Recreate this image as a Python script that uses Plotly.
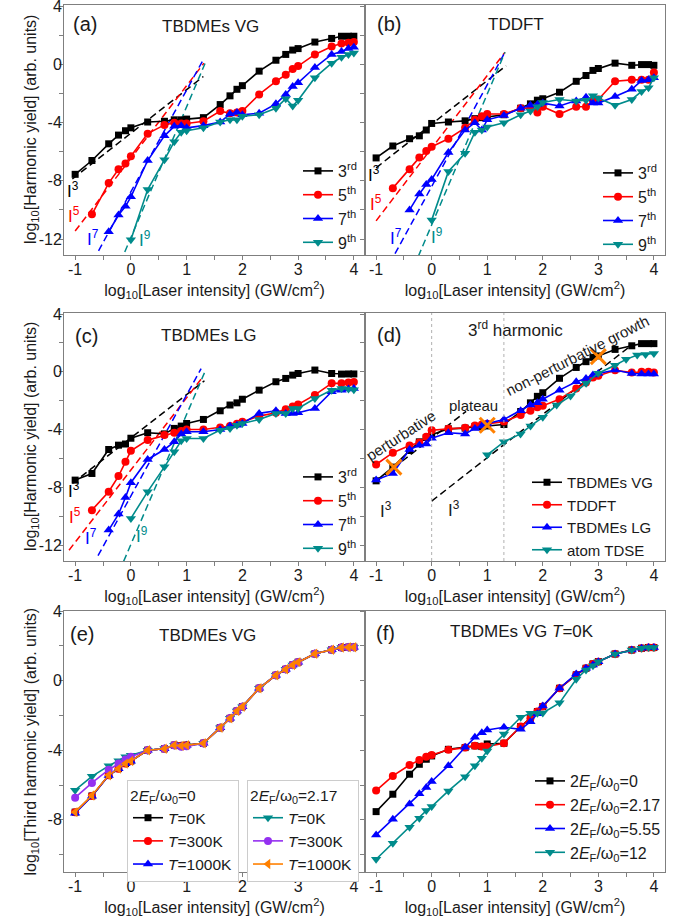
import plotly.graph_objects as go

# ---------------- data ----------------
# log10 of laser intensity (GW/cm^2) sampling grid
log_I = [-1, -0.699, -0.398, -0.222, -0.097, 0, 0.301, 0.602, 0.778, 0.903, 1,
         1.301, 1.602, 1.778, 1.903, 2, 2.301, 2.602, 2.778, 2.903, 3,
         3.301, 3.602, 3.778, 3.903, 4]
x_5th = log_I[1:]
x_7th = log_I[2:]
x_9th = log_I[5:]

# (a) TBDMEs VG
a_3rd = [-7.55, -6.6, -5.45, -4.85, -4.55, -4.35, -3.95, -3.9, -3.8, -3.8, -3.75, -3.65, -2.75,
         -2.15, -1.7, -1.45, -0.45, 0.3, 0.7, 1.0, 1.1, 1.55, 1.8, 1.95, 1.95, 1.95]
a_5th = [-10.3, -8.15, -7.2, -6.8, -6.3, -4.75, -4.15, -4.0, -4.05, -4.05, -3.9, -3.2, -3.35,
         -3.3, -3.2, -2.05, -1.15, -0.7, -0.3, -0.1, 0.7, 1.25, 1.45, 1.5, 1.55]
a_7th = [-11.5, -10.35, -9.75, -9.1, -6.6, -4.9, -4.25, -4.2, -4.35, -4.2, -3.95, -3.4, -3.3,
         -3.45, -3.35, -2.7, -2.05, -1.5, -1.25, -0.2, 0.7, 0.9, 1.1, 1.2]
a_9th = [-12.05, -8.6, -6.55, -5.3, -4.65, -4.55, -4.35, -3.95, -3.8, -3.8, -3.55, -3.45, -3.0,
         -2.35, -2.85, -2.45, -0.9, 0.1, 0.5, 0.7, 0.8]

# (b) TDDFT
b_3rd = [-6.42, -5.6, -5.1, -4.9, -4.5, -4.05, -3.95, -3.87, -3.72, -3.65, -3.6, -3.45, -3.0,
         -2.7, -2.45, -2.35, -1.9, -1.15, -0.75, -0.4, -0.27, 0.1, -0.05, 0.0, 0.0, -0.05]
b_5th = [-8.5, -7.2, -6.4, -5.95, -5.65, -5.1, -4.35, -3.8, -3.55, -3.4, -3.4, -3.0, -3.0,
         -3.3, -2.9, -3.4, -2.9, -2.9, -2.45, -2.4, -1.15, -1.05, -1.05, -1.05, -0.55]
b_7th = [-10.0, -8.9, -8.25, -7.9, -6.05, -4.5, -4.0, -4.5, -3.8, -3.5, -3.0, -2.8, -2.75,
         -2.65, -2.85, -2.5, -2.25, -2.65, -2.65, -2.2, -1.7, -1.1, -1.05, -0.9]
b_9th = [-10.7, -7.35, -6.1, -4.65, -4.5, -4.3, -4.0, -3.45, -3.2, -2.9, -2.6, -2.4, -2.5,
         -2.45, -2.15, -2.3, -2.8, -2.4, -1.85, -1.6, -0.9]

# (c) TBDMEs LG
c_3rd = [-7.5, -7.04, -5.38, -5.08, -5.0, -4.6, -4.22, -4.3, -3.92, -3.76, -3.58, -3.3, -2.7,
         -2.3, -2.15, -1.9, -1.27, -0.69, -0.46, -0.23, -0.12, 0.12, -0.12, -0.16, -0.15, -0.15]
c_5th = [-9.58, -8.3, -7.22, -6.23, -5.47, -4.73, -4.38, -4.22, -4.1, -4.0, -4.0, -3.85, -3.76,
         -3.6, -3.46, -3.07, -2.84, -2.6, -2.4, -2.26, -1.6, -0.8, -0.8, -0.75, -0.7]
c_7th = [-10.96, -9.85, -8.7, -7.68, -6.07, -5.38, -4.85, -4.3, -4.15, -4.15, -4.0, -3.76, -3.7,
         -3.58, -2.88, -2.7, -2.88, -2.88, -2.84, -2.54, -1.38, -1.27, -1.2, -1.15]
c_9th = [-10.15, -8.3, -6.58, -5.54, -4.78, -4.62, -4.62, -4.04, -3.92, -3.7, -3.58, -3.3, -2.88,
         -2.88, -2.54, -2.54, -1.85, -1.27, -1.15, -1.2, -1.25]

# (d) atom TDSE third harmonic
tdse_x = [1.0, 1.3, 1.6, 1.78, 2.0, 2.25, 2.5, 2.78, 3.0, 3.3, 3.5, 3.7, 3.85, 4.0]
tdse_y = [-5.75, -4.85, -4.3, -3.75, -3.15, -2.3, -1.68, -0.8, -0.1, 0.45, 0.86, 1.16, 1.2, 1.27]
# regime-boundary markers (orange crosses)
cross_x = [-0.68, 1.0, 3.0]
cross_y = [-6.6, -3.7, 1.05]
regime_bounds = [0, 1.3]

# power-law guide lines I^n : log y = n*log I + b
fit_orders = [3, 5, 7, 9]
fit_a_b = [-4.72, -6.45, -8.75, -11.9]
fit_a_x0 = [-1.05, -1.0, -0.58, -0.11]
fit_a_x1 = [1.3, 1.31, 1.28, 1.33]
fit_b_b = [-4.1, -5.75, -8.39, -11.03]
fit_b_x0 = [-1.0, -1.0, -0.66, -0.24]
fit_b_x1 = [1.34, 1.32, 1.32, 1.32]
fit_c_b = [-4.58, -6.8, -8.6, -11.95]
fit_c_x0 = [-1.05, -1.11, -0.59, -0.13]
fit_c_x1 = [1.32, 1.29, 1.26, 1.33]
fit_d_order = [3, 3]
fit_d_b = [-4.6, -8.95]
fit_d_x0 = [-1.0, 0.0]
fit_d_x1 = [0.62, 3.55]

# (e) third harmonic vs temperature
e0_T0 = [-7.56, -6.63, -5.44, -5.06, -4.77, -4.62, -4.0, -3.92, -3.71, -3.75, -3.71, -3.6, -2.71,
         -2.17, -1.75, -1.5, -0.44, 0.31, 0.65, 0.9, 1.06, 1.54, 1.77, 1.9, 1.92, 1.92]
e0_T300 = [-7.56, -6.63, -5.44, -5.06, -4.77, -4.62, -4.0, -3.92, -3.71, -3.75, -3.71, -3.6, -2.71,
           -2.17, -1.75, -1.5, -0.44, 0.31, 0.65, 0.9, 1.06, 1.54, 1.77, 1.9, 1.92, 1.92]
e0_T1000 = [-7.62, -6.65, -5.46, -5.07, -4.78, -4.63, -4.0, -3.92, -3.72, -3.76, -3.72, -3.6, -2.71,
            -2.17, -1.75, -1.5, -0.44, 0.31, 0.65, 0.9, 1.06, 1.54, 1.77, 1.9, 1.92, 1.92]
e217_T0 = [-6.3, -5.5, -4.9, -4.6, -4.38, -4.29, -4.0, -3.9, -3.72, -3.78, -3.75, -3.6, -2.71,
           -2.17, -1.75, -1.5, -0.44, 0.31, 0.65, 0.9, 1.06, 1.54, 1.77, 1.9, 1.92, 1.92]
e217_T300 = [-6.73, -5.88, -5.12, -4.77, -4.54, -4.38, -4.0, -3.92, -3.72, -3.8, -3.78, -3.6, -2.71,
             -2.17, -1.75, -1.5, -0.44, 0.31, 0.65, 0.9, 1.06, 1.54, 1.77, 1.9, 1.92, 1.92]
e217_T1000 = [-7.56, -6.6, -5.44, -5.06, -4.77, -4.62, -4.0, -3.92, -3.71, -3.75, -3.71, -3.6, -2.71,
              -2.17, -1.75, -1.5, -0.44, 0.31, 0.65, 0.9, 1.06, 1.54, 1.77, 1.9, 1.92, 1.92]

# (f) third harmonic vs Fermi level, T = 0 K
f_0 = [-7.53, -6.53, -5.38, -4.81, -4.52, -4.33, -3.95, -3.85, -3.75, -3.79, -3.64, -3.6, -2.64,
       -2.16, -1.78, -1.49, -0.44, 0.33, 0.71, 0.96, 1.09, 1.53, 1.76, 1.86, 1.9, 1.9]
f_217 = [-6.32, -5.48, -4.85, -4.56, -4.37, -4.27, -3.98, -3.85, -3.75, -3.79, -3.79, -3.6, -2.64,
         -2.16, -1.78, -1.49, -0.44, 0.33, 0.71, 0.96, 1.09, 1.53, 1.76, 1.86, 1.9, 1.9]
f_555 = [-8.87, -7.97, -7.09, -6.51, -6.15, -5.8, -4.89, -3.83, -3.26, -2.99, -2.84, -2.68, -2.8,
         -2.36, -1.9, -1.46, -0.44, 0.38, 0.71, 0.9, 1.09, 1.53, 1.76, 1.86, 1.9, 1.9]
f_12 = [-10.27, -9.35, -8.43, -7.91, -7.47, -7.24, -6.34, -5.52, -4.9, -4.46, -4.04, -3.07, -2.11,
        -1.88, -1.88, -1.86, -1.28, 0.08, 0.61, 0.86, 1.09, 1.53, 1.76, 1.86, 1.9, 1.9]

order_names = ["3<sup>rd</sup>", "5<sup>th</sup>", "7<sup>th</sup>", "9<sup>th</sup>"]
method_names = ["TBDMEs VG", "TDDFT", "TBDMEs LG", "atom TDSE"]
temp_names = ["<i>T</i>=0K", "<i>T</i>=300K", "<i>T</i>=1000K"]
fermi_names = ["2<i>E</i><sub>F</sub>/ω<sub>0</sub>=0", "2<i>E</i><sub>F</sub>/ω<sub>0</sub>=2.17",
               "2<i>E</i><sub>F</sub>/ω<sub>0</sub>=5.55", "2<i>E</i><sub>F</sub>/ω<sub>0</sub>=12"]

x_tickvals = [-1, 0, 1, 2, 3, 4]
x_ticktext = ["-1", "0", "1", "2", "3", "4"]
x_minorvals = [-0.5, 0.5, 1.5, 2.5, 3.5]
y_tickvals_top = [-12, -8, -4, 0, 4]
y_ticktext_top = ["-12", "-8", "-4", "0", "4"]
y_minorvals_top = [-10, -6, -2, 2]
y_tickvals_bot = [-8, -4, 0, 4]
y_ticktext_bot = ["-8", "-4", "0", "4"]
y_minorvals_bot = [-10, -6, -2, 2]

# ---------------- styling ----------------
W, H = 690, 923
ML, MR, MT, MB = 64, 25, 5, 51
PW, PH = W - ML - MR, H - MT - MB
FONT = "Liberation Sans, Arial, Helvetica, sans-serif"


def px2x(px):
    return (px - ML) / PW


def py2y(py):
    return 1 - (py - MT) / PH


BLACK, RED, BLUE, TEAL = "#000000", "#ff0000", "#0000ff", "#008b8b"
PURPLE, ORANGE = "#9430f0", "#ff8000"
colors4 = [BLACK, RED, BLUE, TEAL]
symbols4 = ["square", "circle", "triangle-up", "triangle-down"]
msize = {"square": 7, "circle": 8, "triangle-up": 9, "triangle-down": 9, "triangle-left": 9}

fig = go.Figure()


def series(x, y, name, color, symbol, ax, legend, showlegend=True):
    fig.add_trace(go.Scatter(
        x=x, y=y, mode="lines+markers", name=name,
        line=dict(color=color, width=1.6),
        marker=dict(symbol=symbol, size=msize[symbol], color=color),
        xaxis="x" + ax, yaxis="y" + ax, legend=legend, showlegend=showlegend))


def guide(order, b, x0, x1, color, ax):
    fig.add_trace(go.Scatter(
        x=[x0, x1], y=[order * x0 + b, order * x1 + b], mode="lines",
        line=dict(color=color, width=1.5, dash="7px,4px"),
        xaxis="x" + ax, yaxis="y" + ax, showlegend=False, hoverinfo="skip"))


# panels a, b, c
panel_data = [
    ("", [a_3rd, a_5th, a_7th, a_9th], fit_a_b, fit_a_x0, fit_a_x1, "legend"),
    ("2", [b_3rd, b_5th, b_7th, b_9th], fit_b_b, fit_b_x0, fit_b_x1, "legend2"),
    ("3", [c_3rd, c_5th, c_7th, c_9th], fit_c_b, fit_c_x0, fit_c_x1, "legend3"),
]
xs4 = [log_I, x_5th, x_7th, x_9th]
for ax, ys, fb, fx0, fx1, lg in panel_data:
    for i in range(4):
        guide(fit_orders[i], fb[i], fx0[i], fx1[i], colors4[i], ax)
    for i in range(4):
        series(xs4[i], ys[i], order_names[i], colors4[i], symbols4[i], ax, lg)

# panel d
for i in range(2):
    guide(fit_d_order[i], fit_d_b[i], fit_d_x0[i], fit_d_x1[i], BLACK, "4")
series(log_I, a_3rd, method_names[0], BLACK, "square", "4", "legend4")
series(log_I, b_3rd, method_names[1], RED, "circle", "4", "legend4")
series(log_I, c_3rd, method_names[2], BLUE, "triangle-up", "4", "legend4")
series(tdse_x, tdse_y, method_names[3], TEAL, "triangle-down", "4", "legend4")
fig.add_trace(go.Scatter(
    x=cross_x, y=cross_y, mode="markers",
    marker=dict(symbol="x-thin", size=15, color=ORANGE, line=dict(color=ORANGE, width=3)),
    xaxis="x4", yaxis="y4", showlegend=False, hoverinfo="skip"))

# panel e
series(log_I, e0_T0, temp_names[0], BLACK, "square", "5", "legend5")
series(log_I, e0_T300, temp_names[1], RED, "circle", "5", "legend5")
series(log_I, e0_T1000, temp_names[2], BLUE, "triangle-up", "5", "legend5")
series(log_I, e217_T0, temp_names[0], TEAL, "triangle-down", "5", "legend6")
series(log_I, e217_T300, temp_names[1], PURPLE, "circle", "5", "legend6")
series(log_I, e217_T1000, temp_names[2], ORANGE, "triangle-left", "5", "legend6")

# panel f
series(log_I, f_0, fermi_names[0], BLACK, "square", "6", "legend7")
series(log_I, f_217, fermi_names[1], RED, "circle", "6", "legend7")
series(log_I, f_555, fermi_names[2], BLUE, "triangle-up", "6", "legend7")
series(log_I, f_12, fermi_names[3], TEAL, "triangle-down", "6", "legend7")

# ---------------- axes ----------------
AXC = "#7f7f7f"
col1 = [px2x(64), px2x(365)]
col2 = [px2x(365), px2x(665)]
rows = [[py2y(255), py2y(5)], [py2y(561), py2y(313)], [py2y(872), py2y(611)]]
yranges = [[-13.1, 4.1], [-13.1, 4.07], [-11, 4]]
xtitle = "log<sub>10</sub>[Laser intensity] (GW/cm<sup>2</sup>)"
ytitles = ["log<sub>10</sub>[Harmonic yield] (arb. units)",
           "log<sub>10</sub>[Harmonic yield] (arb. units)",
           "log<sub>10</sub>[Third harmonic yield] (arb. units)"]

layout_axes = {}
for k in range(6):
    r, c = k // 2, k % 2
    sfx = "" if k == 0 else str(k + 1)
    common = dict(showline=True, linecolor=AXC, linewidth=1, mirror=True,
                  ticks="outside", tickcolor=AXC, ticklen=4, tickwidth=1,
                  showgrid=False, zeroline=False, automargin=False,
                  ticklabeloverflow="allow",
                  tickfont=dict(size=16, color="#1a1a1a", family=FONT))
    layout_axes["xaxis" + sfx] = dict(
        common, domain=col1 if c == 0 else col2, anchor="y" + sfx, range=[-1.2, 4.2],
        tickmode="array", tickvals=x_tickvals, ticktext=x_ticktext, ticklabelstandoff=-4,
        minor=dict(tickmode="array", tickvals=x_minorvals, ticks="outside", ticklen=4,
                   tickcolor=AXC, showgrid=False),
        title=dict(text=xtitle, font=dict(size=16, color="#1a1a1a"), standoff=7))
    yt = y_tickvals_top if r < 2 else y_tickvals_bot
    ytt = y_ticktext_top if r < 2 else y_ticktext_bot
    ym = y_minorvals_top if r < 2 else y_minorvals_bot
    yd = dict(common, domain=rows[r], anchor="x" + sfx, range=yranges[r],
              tickmode="array", tickvals=yt, ticktext=ytt,
              minor=dict(tickmode="array", tickvals=ym, ticks="outside", ticklen=4,
                         tickcolor=AXC, showgrid=False))
    if c == 0:
        yd["ticklabelstandoff"] = -6
    else:
        yd["showticklabels"] = False
    layout_axes["yaxis" + sfx] = yd

fig.update_layout(**layout_axes)

# ---------------- annotations ----------------
ann = []


def txt(ax, x, y, text, size=17, color="#1a1a1a", angle=0, xanchor="center"):
    ann.append(dict(xref="x" + ax, yref="y" + ax, x=x, y=y, text=text, showarrow=False,
                    font=dict(size=size, color=color, family=FONT), textangle=angle,
                    xanchor=xanchor, yanchor="middle"))


# y-axis titles (left column)
for r in range(3):
    ann.append(dict(xref="paper", yref="paper", x=px2x(31), y=(rows[r][0] + rows[r][1]) / 2,
                    text=ytitles[r], showarrow=False, textangle=-90,
                    font=dict(size=16, color="#1a1a1a", family=FONT),
                    xanchor="center", yanchor="middle"))

# panel tags and titles
txt("", -0.83, 2.82, "(a)", 20)
txt("", 1.43, 2.63, "TBDMEs VG", 17)
txt("2", -0.77, 2.82, "(b)", 20)
txt("2", 1.51, 2.75, "TDDFT", 17)
txt("3", -0.79, 2.47, "(c)", 20)
txt("3", 1.40, 2.54, "TBDMEs LG", 17)
txt("4", -0.77, 2.54, "(d)", 20)
txt("4", 1.51, 2.93, "3<sup>rd</sup> harmonic", 17)
txt("5", -0.87, 2.68, "(e)", 20)
txt("5", 1.37, 2.62, "TBDMEs VG", 17)
txt("6", -0.83, 2.76, "(f)", 20)
txt("6", 1.63, 2.81, "TBDMEs VG <i>T</i>=0K", 17)

# I^n labels
Ilab = ["I<sup>3</sup>", "I<sup>5</sup>", "I<sup>7</sup>", "I<sup>9</sup>"]
for i, (xx, yy) in enumerate([(-1.03, -8.6), (-1.02, -10.35), (-0.68, -11.95), (0.25, -12.0)]):
    txt("", xx, yy, Ilab[i], 17, colors4[i])
for i, (xx, yy) in enumerate([(-1.04, -7.55), (-1.0, -9.5), (-0.65, -11.85), (0.1, -11.8)]):
    txt("2", xx, yy, Ilab[i], 17, colors4[i])
for i, (xx, yy) in enumerate([(-1.02, -8.2), (-1.0, -10.0), (-0.71, -11.45), (0.2, -11.3)]):
    txt("3", xx, yy, Ilab[i], 17, colors4[i])
txt("4", -0.83, -9.58, Ilab[0], 17)
txt("4", 0.40, -9.53, Ilab[0], 17)
txt("4", -0.56, -4.38, "perturbative", 15, angle=-33)
txt("4", 0.75, -2.3, "plateau", 15)
txt("4", 2.62, 1.16, "non-perturbative growth", 15, angle=-27)

shapes = []
for xb in regime_bounds:
    shapes.append(dict(type="line", xref="x4", yref="y4 domain", x0=xb, x1=xb, y0=0, y1=1,
                       line=dict(color="#b0b0b0", width=1, dash="dot")))

# ---------------- legends ----------------
def leg(left_px, top_px, size=16, title=None, border=False):
    d = dict(x=px2x(left_px), y=py2y(top_px), xanchor="left", yanchor="top",
             bgcolor="rgba(0,0,0,0)", font=dict(size=size, color="#1a1a1a", family=FONT),
             itemwidth=30, tracegroupgap=0, borderwidth=0)
    if title:
        d["title"] = dict(text=title, font=dict(size=size, color="#1a1a1a", family=FONT), side="top")
    if border:
        d.update(borderwidth=1, bordercolor="#cccccc", bgcolor="white")
    return d


fig.update_layout(
    template="none",
    width=W, height=H, margin=dict(l=ML, r=MR, t=MT, b=MB, autoexpand=False),
    paper_bgcolor="white", plot_bgcolor="white",
    font=dict(family=FONT, size=16, color="#1a1a1a"),
    showlegend=True,
    annotations=ann, shapes=shapes,
    legend=leg(298, 154),
    legend2=leg(598, 156),
    legend3=leg(298, 460),
    legend4=leg(527, 466, 15),
    legend5=leg(127, 780, 15.5, fermi_names[0], True),
    legend6=leg(247, 780, 15.5, fermi_names[1], True),
    legend7=leg(530, 764, 16),
)

# remove the browser's default page margin so the figure sits at the window origin
fig.write_html("out.html", config={"displayModeBar": False},
               post_script="document.body.style.margin='0px';")
